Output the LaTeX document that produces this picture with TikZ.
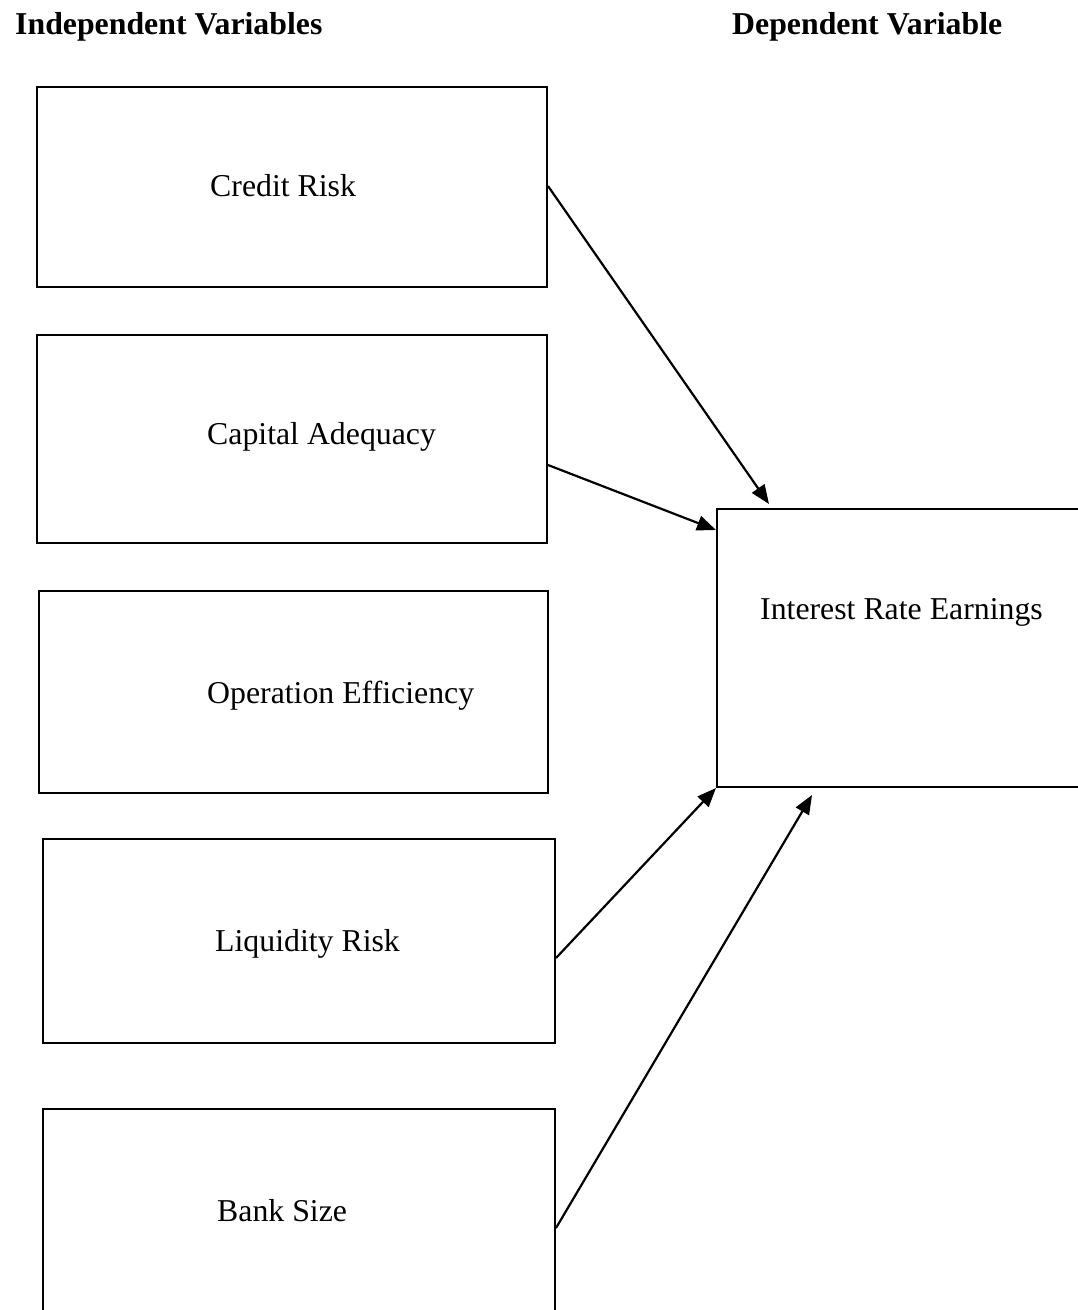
\documentclass[tikz,border=0pt]{standalone}
\usepackage{fontspec}
\setmainfont{Liberation Serif}
\usetikzlibrary{arrows.meta,calc}
\begin{document}
\begin{tikzpicture}[x=1pt,y=-1pt,
  box/.style={draw,line width=2pt,rectangle,inner sep=0pt},
  lbl/.style={font=\fontsize{31.8}{38}\selectfont,inner sep=0pt,anchor=base west},
  hdr/.style={font=\fontsize{31.8}{38}\selectfont\bfseries,inner sep=0pt,anchor=base west},
  conn/.style={line width=2.2pt,-{Triangle[length=19pt,width=15pt]}}]
\useasboundingbox (0,0) rectangle (1078,1310);
\clip (0,0) rectangle (1078,1310);
% headers
\node[hdr] (hi) at (15,34) {Independent Variables};
\node[hdr] (hd) at (732,34) {Dependent Variable};
% boxes
\node[box,minimum width=510pt,minimum height=200pt] (cr) at (292,187) {};
\node[box,minimum width=510pt,minimum height=208pt] (ca) at (292,439) {};
\node[box,minimum width=509pt,minimum height=202pt] (oe) at (293.5,692) {};
\node[box,minimum width=512pt,minimum height=204pt] (lr) at (299,941) {};
\node[box,minimum width=512pt,minimum height=231pt] (bs) at (299,1224.5) {};
\node[box,minimum width=393pt,minimum height=278pt] (ire) at (913.5,648) {};
% labels
\node[lbl] (tcr) at (210,196) {Credit Risk};
\node[lbl] (tca) at (207,444) {Capital Adequacy};
\node[lbl] (toe) at (207,703) {Operation Efficiency};
\node[lbl] (tlr) at (215,951) {Liquidity Risk};
\node[lbl] (tbs) at (217,1221) {Bank Size};
\node[lbl] (tire) at (760,619) {Interest Rate Earnings};
% connectors
\draw[conn] ($(cr.east)+(0,-1)$) -- ($(ire.north west)+(53,-4)$);
\draw[conn] ($(ca.east)+(0,26)$) -- ($(ire.north west)+(0,22)$);
\draw[conn] ($(lr.east)+(0,17)$) -- (ire.south west);
\draw[conn] ($(bs.east)+(0,3.5)$) -- ($(ire.south west)+(96,7)$);
\end{tikzpicture}
\end{document}
